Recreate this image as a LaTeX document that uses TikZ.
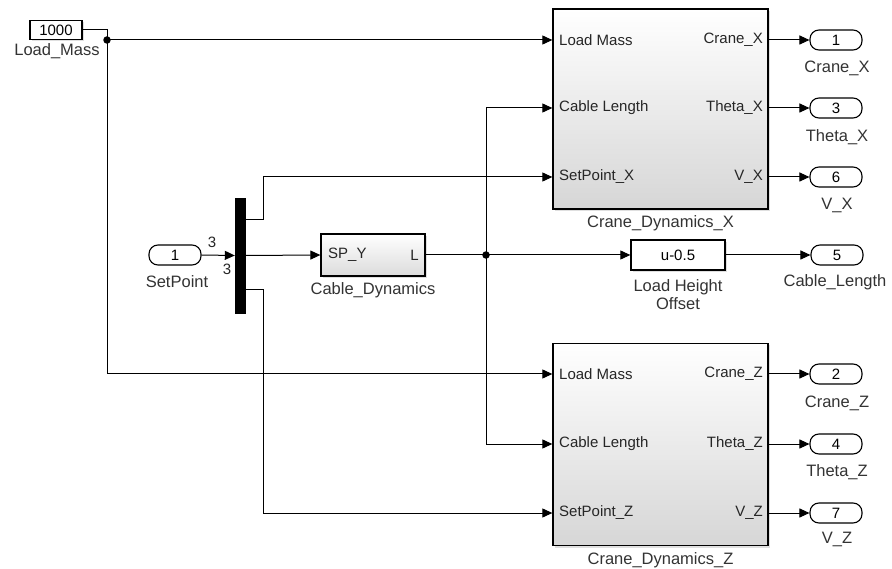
\documentclass[tikz,border=0pt]{standalone}
\usepackage{fontspec}
\setmainfont{Liberation Sans}
\usetikzlibrary{arrows.meta,shadows}
\begin{document}
\begin{tikzpicture}[x=1pt,y=-1pt,
  blk/.style={draw=black,line width=1.3pt,inner sep=0pt,fill=white,
    drop shadow={shadow xshift=2pt,shadow yshift=-2pt,opacity=0.25}},
  subsys/.style={blk,top color=white,bottom color=black!16,minimum width=215pt,minimum height=200pt},
  ioport/.style={draw=black,line width=1.1pt,rounded corners=9pt,minimum width=52pt,minimum height=20pt,inner sep=0pt,fill=white,font=\fontsize{15}{17}\selectfont},
  plab/.style={inner sep=0pt,text=black!85,font=\fontsize{15}{17}\selectfont},
  blklab/.style={inner sep=0pt,text=black!80,font=\fontsize{16.5}{19}\selectfont,align=center},
  wire/.style={line width=1pt},
  arr/.style={wire,-{Triangle[length=10pt,width=9pt]}},
  jdot/.style={circle,fill=black,inner sep=0pt,minimum size=7.5pt}
]
\useasboundingbox[fill=white] (0,0) rectangle (892,569);

% constant
\node[blk,minimum width=52pt,minimum height=19pt,font=\fontsize{15}{17}\selectfont] (lm) at (56,30) {1000};
\node[blklab] (lmlab) at (57,51) {Load\_Mass};

% inport
\node[ioport] (sp) at (175,255) {1};
\node[blklab] (splab) at (177,282) {SetPoint};

% mux
\node[draw=black,fill=black,minimum width=10pt,minimum height=115pt,inner sep=0pt] (mux) at (240,255.5) {};
\node[plab] (n3a) at (212,242) {3};
\node[plab] (n3b) at (227,269) {3};

% cable dynamics
\node[blk,top color=white,bottom color=black!14,minimum width=104pt,minimum height=42pt] (cd) at (373,255) {};
\node[plab,anchor=west] (cdin) at (328,255) {SP\_Y};
\node[plab,anchor=east] (cdout) at (419,255) {L};
\node[blklab] (cdlab) at (373,290) {Cable\_Dynamics};

% gain
\node[blk,minimum width=94pt,minimum height=30pt,font=\fontsize{15}{17}\selectfont] (lho) at (678,255) {u-0.5};
\node[blklab] (lholab) at (678,295) {Load Height\\[-1pt]Offset};

% subsystems
\node[subsys] (cdx) at (660.5,109) {};
\node[subsys,minimum height=202pt] (cdz) at (660.5,444.5) {};
\node[blklab] (cdxlab) at (660.5,223) {Crane\_Dynamics\_X};
\node[blklab] (cdzlab) at (660.5,560) {Crane\_Dynamics\_Z};

\foreach \y/\l/\r/\nm in {40/Load Mass/Crane\_X/x1,108/Cable Length/Theta\_X/x2,177/SetPoint\_X/V\_X/x3,
                         374/Load Mass/Crane\_Z/z1,444/Cable Length/Theta\_Z/z2,513/SetPoint\_Z/V\_Z/z3}{
  \node[plab,anchor=west] (\nm in) at (559,\y) {\l};
  \node[plab,anchor=east] (\nm out) at (763,\y) {\r};
}

% outports
\node[ioport] (o1) at (836,40) {1};
\node[ioport] (o3) at (836,108) {3};
\node[ioport] (o6) at (836,177) {6};
\node[ioport] (o5) at (837,255) {5};
\node[ioport] (o2) at (836,374) {2};
\node[ioport] (o4) at (836,444) {4};
\node[ioport] (o7) at (836,513) {7};
\node[blklab] (o1l) at (837,68) {Crane\_X};
\node[blklab] (o3l) at (837,137) {Theta\_X};
\node[blklab] (o6l) at (837,205) {V\_X};
\node[blklab] (o5l) at (835,282) {Cable\_Length};
\node[blklab] (o2l) at (837,403) {Crane\_Z};
\node[blklab] (o4l) at (837,472) {Theta\_Z};
\node[blklab] (o7l) at (837,539) {V\_Z};

% junctions and bends
\node[jdot] (j1) at (107,40) {};
\node[jdot] (j2) at (486,255) {};
\coordinate (m1) at (245,220);
\coordinate (m3) at (245,290);
\coordinate (b1) at (263,220);
\coordinate (b3) at (263,290);

% wires
\draw[wire] (lm.east) -| (j1.center);
\draw[arr] (j1.center) -- (j1 -| cdx.west);
\draw[arr] (j1.center) |- (cdz.west |- 0,374);
\draw[arr] (sp.east) -- (mux.west);
\draw[arr] (m1) -- (b1) |- (cdx.west |- 0,177);
\draw[arr] (m3) -- (b3) |- (cdz.west |- 0,513);
\draw[arr] (mux.east) -- (cd.west);
\draw[wire] (cd.east) -- (j2.center);
\draw[arr] (j2.center) -- (lho.west);
\draw[arr] (j2.center) |- (cdx.west |- 0,108);
\draw[arr] (j2.center) |- (cdz.west |- 0,444);
\draw[arr] (lho.east) -- (o5.west);
\draw[arr] (cdx.east |- 0,40) -- (o1.west);
\draw[arr] (cdx.east |- 0,108) -- (o3.west);
\draw[arr] (cdx.east |- 0,177) -- (o6.west);
\draw[arr] (cdz.east |- 0,374) -- (o2.west);
\draw[arr] (cdz.east |- 0,444) -- (o4.west);
\draw[arr] (cdz.east |- 0,513) -- (o7.west);
\end{tikzpicture}
\end{document}
